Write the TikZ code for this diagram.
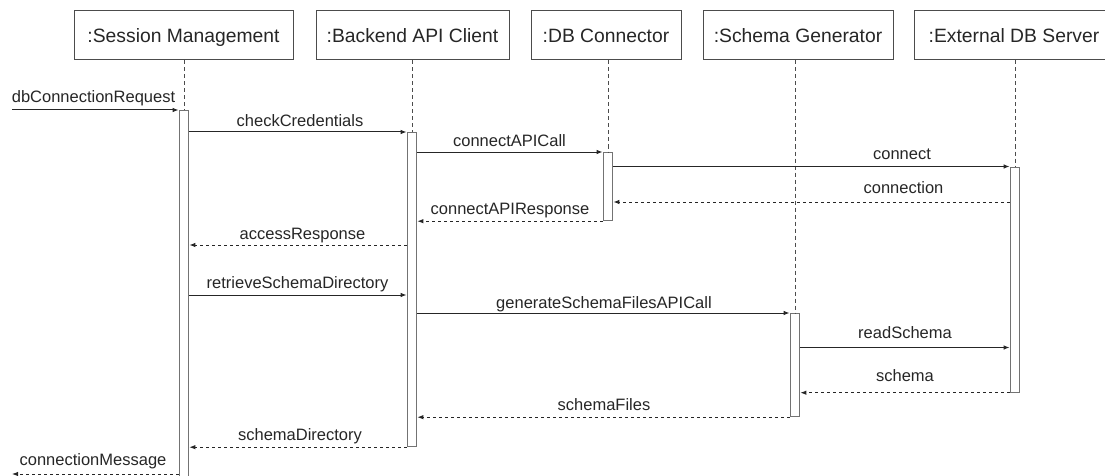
\documentclass[tikz,border=0pt]{standalone}
\usepackage{fontspec}
\setmainfont{Liberation Sans}
\usetikzlibrary{arrows.meta,calc}
\begin{document}
\begin{tikzpicture}[x=1pt,y=-1pt,
  hdr/.style={draw=black!70,line width=1pt,minimum height=49pt,inner sep=0pt,
    font=\fontsize{19.3}{22}\selectfont,text=black!85,text height=14pt,text depth=0pt},
  act/.style={draw=black!55,line width=1.2pt,fill=white,minimum width=9.5pt,inner sep=0pt,anchor=north},
  life/.style={draw=black!70,line width=0.9pt,dash pattern=on 4pt off 3pt},
  msg/.style={draw=black!85,line width=1pt,-{Latex[length=6pt,width=4.5pt]}},
  ret/.style={msg,dash pattern=on 3pt off 3pt},
  lbl/.style={font=\fontsize{16.5}{19}\selectfont,text=black!85,anchor=base,inner sep=0pt}]
\useasboundingbox (0,0) rectangle (1105,476);
\clip (0,0) rectangle (1105,476);

% header boxes
\node[hdr,minimum width=219pt] (H1) at (183.5,35.5) {:Session Management};
\node[hdr,minimum width=193pt] (H2) at (412.5,35.5) {:Backend API Client};
\node[hdr,minimum width=150pt] (H3) at (606,35.5) {:DB Connector};
\node[hdr,minimum width=190pt] (H4) at (798,35.5) {:Schema Generator};
\node[hdr,minimum width=200pt] (H5) at (1014,35.5) {:External DB Server};

% activation bars
\node[act,minimum height=370pt] (A1) at (184,110) {};
\node[act,minimum height=314pt] (A2) at (412,132) {};
\node[act,minimum height=68pt] (A3) at (608,152) {};
\node[act,minimum height=103pt] (A4) at (795,313) {};
\node[act,minimum height=225pt] (A5) at (1015,166.5) {};

% lifelines
\draw[life] (A1.north |- H1.south) -- (A1.north);
\draw[life] (A2.north |- H2.south) -- (A2.north);
\draw[life] (A3.north |- H3.south) -- (A3.north);
\draw[life] (A4.north |- H4.south) -- (A4.north);
\draw[life] (A5.north |- H5.south) -- (A5.north);

% free ends
\coordinate (in) at (12,110);
\coordinate (out) at (12,474);

% messages
\draw[msg] (in) -- (A1.west |- in);
\draw[msg] (A1.east |- A2.north) -- (A2.north west);
\draw[msg] (A2.east |- A3.north) -- (A3.north west);
\draw[msg] (A3.east |- A5.north) -- (A5.north west);
\draw[ret] (A5.west |- 0,202) -- (A3.east |- 0,202);
\draw[ret] (A3.south west) -- (A2.east |- A3.south);
\draw[ret] (A2.west |- 0,245) -- (A1.east |- 0,245);
\draw[msg] (A1.east |- 0,295) -- (A2.west |- 0,295);
\draw[msg] (A2.east |- A4.north) -- (A4.north west);
\draw[msg] (A4.east |- 0,347.5) -- (A5.west |- 0,347.5);
\draw[ret] (A5.south west) -- (A4.east |- A5.south);
\draw[ret] (A4.south west) -- (A2.east |- A4.south);
\draw[ret] (A2.south west) -- (A1.east |- A2.south);
\draw[ret] (A1.west |- out) -- (out);

% labels
\node[lbl] (L1) at (93.5,102.5) {dbConnectionRequest};
\node[lbl] (L2) at (300,127) {checkCredentials};
\node[lbl] (L3) at (509.5,146.7) {connectAPICall};
\node[lbl] (L4) at (902,159) {connect};
\node[lbl] (L5) at (903.5,193.3) {connection};
\node[lbl] (L6) at (510,214.3) {connectAPIResponse};
\node[lbl] (L7) at (302.5,239.5) {accessResponse};
\node[lbl] (L8) at (297.5,288.3) {retrieveSchemaDirectory};
\node[lbl] (L9) at (604,308) {generateSchemaFilesAPICall};
\node[lbl] (L10) at (905,338.3) {readSchema};
\node[lbl] (L11) at (905,381.7) {schema};
\node[lbl] (L12) at (604,410.3) {schemaFiles};
\node[lbl] (L13) at (300,440.3) {schemaDirectory};
\node[lbl] (L14) at (93,465.3) {connectionMessage};
\end{tikzpicture}
\end{document}
